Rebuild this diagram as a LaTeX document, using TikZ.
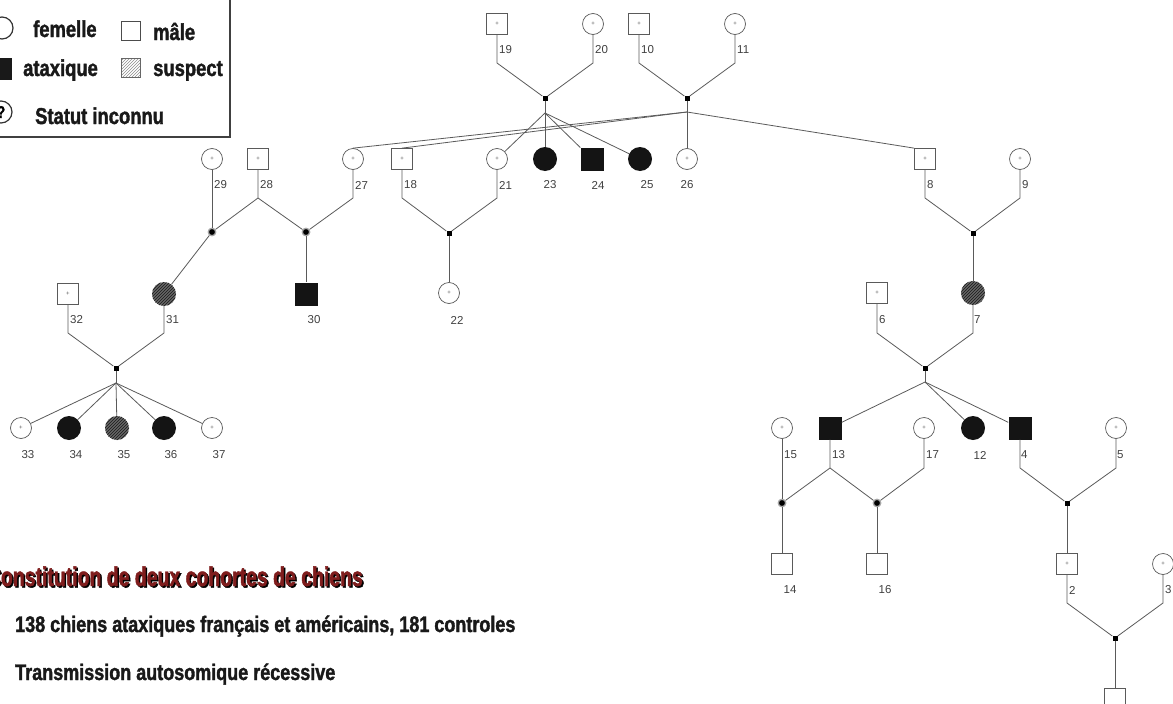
\documentclass[tikz,border=0pt]{standalone}
\usepackage{fontspec}
\setmainfont{Liberation Sans}
\newfontfamily\futura[FakeStretch=0.8,FakeBold=1.6]{Liberation Sans}
\newfontfamily\futuratitle[FakeStretch=0.72,FakeBold=1.6]{Liberation Sans}
\usetikzlibrary{patterns}
\definecolor{ttlred}{HTML}{7F1D1D}
\definecolor{edge}{HTML}{5A5A5A}
\tikzset{
 every node/.style={inner sep=0pt},
 fem/.style={circle, draw=edge, line width=0.7pt, fill=white, minimum size=21pt, font=\fontsize{6}{6}\selectfont, text=edge},
 mal/.style={rectangle, draw=edge, line width=0.7pt, fill=white, minimum size=21pt, font=\fontsize{6}{6}\selectfont, text=edge},
 affF/.style={circle, fill=black!92, minimum size=24pt},
 affM/.style={rectangle, fill=black!92, minimum size=23pt},
 susF/.style={circle, minimum size=24pt, preaction={fill=black!60}, pattern=north east lines, pattern color=black!90},
 mate/.style={rectangle, fill=black, minimum size=5pt},
 ring/.style={circle, draw=gray!70, line width=1.3pt, fill=black, minimum size=7.5pt},
 link/.style={draw=edge, line width=0.8pt},
 num/.style={font=\fontsize{11.5}{11.5}\selectfont, text=black!75},
 numw/.style={num, anchor=west},
 leg/.style={font=\futura\bfseries\fontsize{23}{23}\selectfont, text=black!90, anchor=base west},
 big/.style={font=\futura\bfseries\fontsize{22.5}{22.5}\selectfont, text=black!90, anchor=base west},
 ttlfont/.style={font=\futuratitle\bfseries\fontsize{27}{27}\selectfont, anchor=base east},
}
\begin{document}
\begin{tikzpicture}[x=1pt,y=-1pt]
\useasboundingbox (0,0) rectangle (1173,704);
% ---------- legend ----------
\draw[draw=black!75, line width=1.6pt] (-10,-10) rectangle (230,137);
\node[circle, draw=black!80, line width=1.2pt, minimum size=22pt] (lgF) at (2,28) {};
\node[leg] (tF) at (33,37) {femelle};
\node[rectangle, draw=black!70, line width=1pt, minimum size=19pt] (lgM) at (130.5,30.5) {};
\node[leg] (tM) at (153,40) {mâle};
\node[rectangle, fill=black!90, minimum size=22pt] (lgA) at (1,69) {};
\node[leg] (tA) at (23,76) {ataxique};
\node[rectangle, draw=black!60, line width=1pt, minimum size=19pt, pattern=north east lines, pattern color=black!45] (lgS) at (130.5,68) {};
\node[leg] (tS) at (153,76) {suspect};
\node[circle, draw=black!80, line width=1.2pt, minimum size=22pt, font=\futura\bfseries\fontsize{17}{17}\selectfont] (lgQ) at (1,112) {?};
\node[leg] (tQ) at (35,124) {Statut inconnu};
% ---------- bottom text ----------
\node[ttlfont, text=black] (ttlS) at (364.5,587.5) {Constitution de deux cohortes de chiens};
\node[ttlfont, text=ttlred] (ttl) at (363,586) {Constitution de deux cohortes de chiens};
\node[big] (t2) at (15,632) {138 chiens ataxiques français et américains, 181 controles};
\node[big] (t3) at (15,680) {Transmission autosomique récessive};
% ---------- levels ----------
\coordinate (yI) at (0,63);
\coordinate (yII) at (0,198);
\coordinate (yIII) at (0,333);
\coordinate (yIV) at (0,468);
\coordinate (yV) at (0,603);
% ---------- generation I ----------
\node[mal] (n19) at (497,24) {+}; \node[numw] (l19) at (499,50) {19};
\node[fem] (n20) at (593,24) {+}; \node[numw] (l20) at (595,50) {20};
\node[mal] (n10) at (639,24) {+}; \node[numw] (l10) at (641,50) {10};
\node[fem] (n11) at (735,24) {+}; \node[numw] (l11) at (737,50) {11};
\node[mate] (m1920) at (545,98) {};
\coordinate (s1920) at (545,113);
\node[mate] (m1011) at (687,98) {};
\coordinate (s1011) at (687,112);
% ---------- generation II ----------
\node[fem] (n29) at (212,159) {+}; \node[numw] (l29) at (214,185) {29};
\node[mal] (n28) at (258,159) {+}; \node[numw] (l28) at (260,185) {28};
\node[fem] (n27) at (353,159) {+}; \node[numw] (l27) at (355,185) {27};
\node[mal] (n18) at (402,159) {+}; \node[numw] (l18) at (404,185) {18};
\node[fem] (n21) at (497,159) {+}; \node[numw] (l21) at (499,185) {21};
\node[affF] (n23) at (545,159) {}; \node[num] (l23) at (550,185) {23};
\node[affM] (n24) at (592,159) {}; \node[num] (l24) at (598,185) {24};
\node[affF] (n25) at (640,159) {}; \node[num] (l25) at (647,185) {25};
\node[fem] (n26) at (687,159) {+}; \node[num] (l26) at (687,185) {26};
\node[mal] (n8) at (925,159) {+}; \node[numw] (l8) at (927,185) {8};
\node[fem] (n9) at (1020,159) {+}; \node[numw] (l9) at (1022,185) {9};
\node[ring] (m2829) at (212,232) {};
\node[ring] (m2827) at (306,232) {};
\node[mate] (m1821) at (449,233) {};
\node[mate] (m89) at (973,233) {};
% ---------- generation III ----------
\node[mal] (n32) at (68,294) {+}; \node[numw] (l32) at (70,320) {32};
\node[susF] (n31) at (164,294) {}; \node[numw] (l31) at (166,320) {31};
\node[affM] (n30) at (306,294) {}; \node[num] (l30) at (314,320) {30};
\node[fem] (n22) at (449,293) {+}; \node[num] (l22) at (457,320) {22};
\node[mal] (n6) at (877,293) {+}; \node[numw] (l6) at (879,320) {6};
\node[susF] (n7) at (973,293) {}; \node[numw] (l7) at (974,320) {7};
\node[mate] (m3231) at (116,368) {};
\coordinate (s3231) at (116,383);
\node[mate] (m67) at (925,368) {};
\coordinate (s67) at (925,382);
% ---------- generation IV ----------
\node[fem] (n33) at (21,428) {+}; \node[num] (l33) at (28,455) {33};
\node[affF] (n34) at (69,428) {}; \node[num] (l34) at (76,455) {34};
\node[susF] (n35) at (117,428) {}; \node[num] (l35) at (124,455) {35};
\node[affF] (n36) at (164,428) {}; \node[num] (l36) at (171,455) {36};
\node[fem] (n37) at (212,428) {+}; \node[num] (l37) at (219,455) {37};
\node[fem] (n15) at (782,428) {+}; \node[numw] (l15) at (784,455) {15};
\node[affM] (n13) at (830,428) {}; \node[numw] (l13) at (832,455) {13};
\node[fem] (n17) at (924,428) {+}; \node[numw] (l17) at (926,455) {17};
\node[affF] (n12) at (973,428) {}; \node[num] (l12) at (980,455) {12};
\node[affM] (n4) at (1020,428) {}; \node[numw] (l4) at (1021,455) {4};
\node[fem] (n5) at (1116,428) {+}; \node[numw] (l5) at (1117,455) {5};
\node[ring] (m1513) at (782,503) {};
\node[ring] (m1317) at (877,503) {};
\node[mate] (m45) at (1067,503) {};
% ---------- generation V / VI ----------
\node[mal] (n14) at (782,564) {}; \node[num] (l14) at (790,590) {14};
\node[mal] (n16) at (877,564) {}; \node[num] (l16) at (885,590) {16};
\node[mal] (n2) at (1067,564) {+}; \node[numw] (l2) at (1069,590) {2};
\node[fem] (n3) at (1163,564) {+}; \node[numw] (l3) at (1165,590) {3};
\node[mate] (m23) at (1115,638) {};
\node[mal] (n1) at (1115,699) {};
% ---------- connectors ----------
\draw[link] (n19) -- (n19|-yI) -- (m1920) -- (n20|-yI) -- (n20);
\draw[link] (n10) -- (n10|-yI) -- (m1011) -- (n11|-yI) -- (n11);
\draw[link] (m1920) -- (s1920);
\draw[link] (s1920) -- (n21);
\draw[link] (s1920) -- (n23);
\draw[link] (s1920) -- (n24);
\draw[link] (s1920) -- (n25);
\draw[link] (m1011) -- (s1011);
\draw[link] (s1011) -- (n27.north);
\draw[link] (s1011) -- (n18.north);
\draw[link] (s1011) -- (n26);
\draw[link] (s1011) -- (n8.north west);
\draw[link] (n28) -- (n28|-yII) -- (m2829);
\draw[link] (n28|-yII) -- (m2827);
\draw[link] (n29) -- (m2829);
\draw[link] (n27) -- (n27|-yII) -- (m2827);
\draw[link] (m2829) -- (n31);
\draw[link] (m2827) -- (n30);
\draw[link] (n18) -- (n18|-yII) -- (m1821) -- (n21|-yII) -- (n21);
\draw[link] (m1821) -- (n22);
\draw[link] (n8) -- (n8|-yII) -- (m89) -- (n9|-yII) -- (n9);
\draw[link] (m89) -- (n7);
\draw[link] (n32) -- (n32|-yIII) -- (m3231) -- (n31|-yIII) -- (n31);
\draw[link] (m3231) -- (s3231);
\foreach \c in {n33,n34,n35,n36,n37} \draw[link] (s3231) -- (\c);
\draw[link] (n6) -- (n6|-yIII) -- (m67) -- (n7|-yIII) -- (n7);
\draw[link] (m67) -- (s67);
\foreach \c in {n13,n12,n4} \draw[link] (s67) -- (\c);
\draw[link] (n13) -- (n13|-yIV) -- (m1513);
\draw[link] (n13|-yIV) -- (m1317);
\draw[link] (n15) -- (m1513);
\draw[link] (n17) -- (n17|-yIV) -- (m1317);
\draw[link] (m1513) -- (n14);
\draw[link] (m1317) -- (n16);
\draw[link] (n4) -- (n4|-yIV) -- (m45) -- (n5|-yIV) -- (n5);
\draw[link] (m45) -- (n2);
\draw[link] (n2) -- (n2|-yV) -- (m23) -- (n3|-yV) -- (n3);
\draw[link] (m23) -- (n1);
\end{tikzpicture}
\end{document}
